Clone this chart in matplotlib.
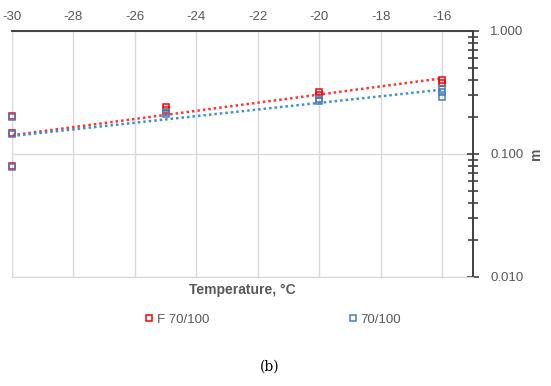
import numpy as np
import matplotlib.pyplot as plt
from matplotlib.ticker import LogLocator, FixedLocator, FixedFormatter, NullFormatter

# F 70/100 (red)
temp_f = [-30, -30, -30, -25, -25, -20, -20, -16, -16]
m_f = [0.205, 0.148, 0.080, 0.24, 0.23, 0.32, 0.30, 0.40, 0.38]
# 70/100 (blue)
temp_b = [-30, -30, -30, -25, -25, -20, -20, -16, -16, -16]
m_b = [0.200, 0.145, 0.079, 0.22, 0.21, 0.28, 0.27, 0.34, 0.32, 0.29]

xticks = [-30, -28, -26, -24, -22, -20, -18, -16]
yticks = [0.01, 0.1, 1.0]
ylabels = ["0.010", "0.100", "1.000"]

red = "#ff0000"
blue = "#4a7ebb"
txt = "#595959"
grid = "#d9d9d9"

plt.rcParams['font.family'] = ['Liberation Sans', 'DejaVu Sans']
plt.rcParams['axes.unicode_minus'] = False

fig = plt.figure(figsize=(5.51, 3.86), dpi=100)
ax = fig.add_axes([0.0218, 0.2824, 0.8362, 0.6373])

for t, m, c, lab, lc in [(temp_f, m_f, red, "F 70/100", "#ff3333"),
                         (temp_b, m_b, blue, "70/100", "#3a8fd8")]:
    ax.plot(t, m, linestyle="none", marker="s", markersize=5, markerfacecolor="none",
            markeredgecolor=c, markeredgewidth=1.1, label=lab, zorder=3, clip_on=False)
    # exponential trendline
    k, b = np.polyfit(t, np.log10(m), 1)
    xs = np.array([-30, -16])
    ax.plot(xs, 10 ** (b + k * xs), linestyle=(0, (1, 1.2)), color=lc, lw=1.8, zorder=2)

ax.set_yscale("log")
ax.set_ylim(0.01, 1.0)
ax.set_xlim(-30, -15)

ax.xaxis.tick_top()
ax.set_xticks(xticks)
ax.tick_params(axis="x", length=0, labelsize=9.5, colors=txt, pad=6)

ax.yaxis.tick_right()
ax.yaxis.set_major_locator(FixedLocator(yticks))
ax.yaxis.set_major_formatter(FixedFormatter(ylabels))
ax.yaxis.set_minor_locator(LogLocator(base=10, subs=np.arange(2, 10)))
ax.yaxis.set_minor_formatter(NullFormatter())
ax.tick_params(axis="y", which="major", direction="inout", length=9, width=1.2,
               color="#404040", labelsize=9.5, labelcolor=txt, pad=8)
ax.tick_params(axis="y", which="minor", direction="inout", length=7, width=1.2,
               color="#404040")

ax.grid(True, which="major", color=grid, lw=1)
ax.set_axisbelow(True)

ax.spines["right"].set_color("#404040")
ax.spines["right"].set_linewidth(1.4)
ax.spines["top"].set_color("#404040")
ax.spines["top"].set_linewidth(1.4)
ax.spines["left"].set_color(grid)
ax.spines["bottom"].set_color(grid)

ax.yaxis.set_label_position("right")
ax.set_ylabel("m", fontsize=10, fontweight="bold", color=txt, labelpad=4)
ax.set_xlabel("Temperature, \u00b0C", fontsize=10, fontweight="bold", color=txt, labelpad=4)

ax.legend(loc="upper center", bbox_to_anchor=(0.565, -0.1), ncol=2, frameon=False,
          fontsize=9.5, labelcolor=txt, columnspacing=10.5, handlelength=0.8,
          handletextpad=0.2, markerscale=1)

fig.text(0.49, 0.04, "(b)", family="DejaVu Serif", fontsize=10, ha="center", color="black")

fig.savefig("out.png", dpi=100)
